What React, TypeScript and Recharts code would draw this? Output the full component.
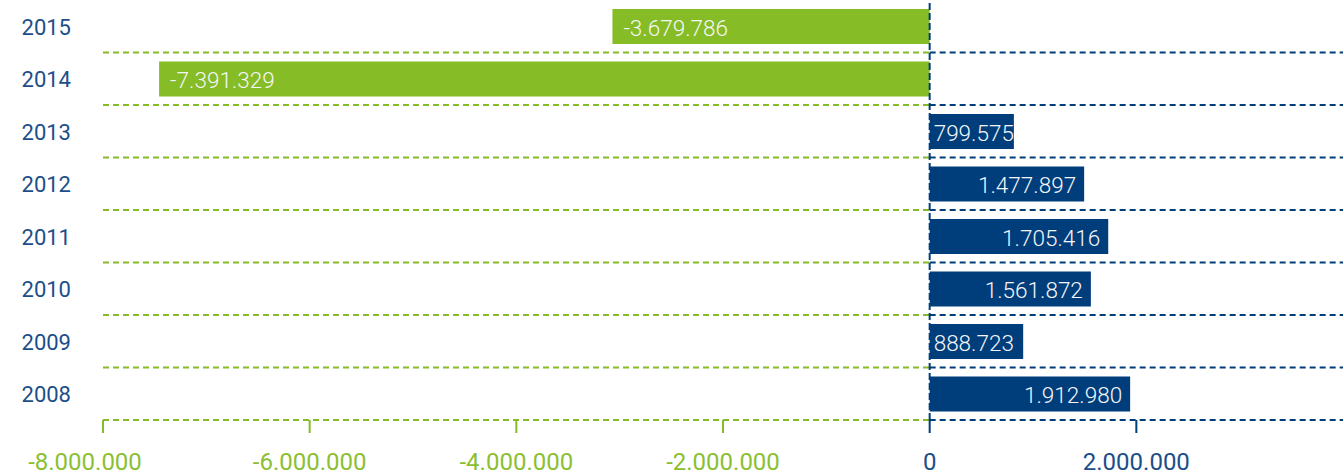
import React from 'react';
import { BarChart, Bar, XAxis, YAxis, CartesianGrid, ReferenceLine, Cell, LabelList } from 'recharts';

const years = ['2015', '2014', '2013', '2012', '2011', '2010', '2009', '2008'];
const barValues = [-3070000, -7457000, 815000, 1495000, 1728000, 1560000, 905000, 1940000];
const valueLabels = ['-3.679.786', '-7.391.329', '799.575', '1.477.897', '1.705.416', '1.561.872', '888.723', '1.912.980'];
const xTicks = [-8000000, -6000000, -4000000, -2000000, 0, 2000000];
const xTickLabels = ['-8.000.000', '-6.000.000', '-4.000.000', '-2.000.000', '0', '2.000.000'];
const xDomain = [-8000000, 4000000];

const GREEN = '#86bc25';
const BLUE = '#003d7b';
const GREEN_TEXT = '#8bbf33';
const BLUE_TEXT = '#1c4e89';
const FONT = 'Roboto, "DejaVu Sans", sans-serif';

const data = years.map((year, i) => ({ year, value: barValues[i], label: valueLabels[i] }));

const zeroFrac = (0 - xDomain[0]) / (xDomain[1] - xDomain[0]);

const GridLine = (props: any) => {
  const { x1, x2, y1 } = props;
  const zx = x1 + (x2 - x1) * zeroFrac;
  return (
    <g>
      <line x1={x1} x2={zx} y1={y1} y2={y1} stroke={GREEN} strokeWidth={2} strokeDasharray="6 4" />
      <line x1={zx} x2={x2} y1={y1} y2={y1} stroke={BLUE} strokeWidth={2} strokeDasharray="6 4" />
    </g>
  );
};

const XTick = (props: any) => {
  const { x, y, payload } = props;
  const v = payload.value;
  const i = xTicks.indexOf(v);
  const color = v < 0 ? GREEN : BLUE;
  const textColor = v < 0 ? GREEN_TEXT : BLUE_TEXT;
  const dx = i === 0 ? -18 : 0;
  return (
    <g>
      <line x1={x} x2={x} y1={y} y2={y + 13} stroke={color} strokeWidth={2} />
      <text x={x + dx} y={y + 50} textAnchor="middle" fill={textColor} fontSize={24} fontFamily={FONT}>
        {i >= 0 ? xTickLabels[i] : ''}
      </text>
    </g>
  );
};

const YTick = (props: any) => {
  const { x, y, payload } = props;
  return (
    <text x={x - 32} y={y} dy={1} textAnchor="end" dominantBaseline="central" fill={BLUE_TEXT} fontSize={22} fontFamily={FONT}>
      {payload.value}
    </text>
  );
};

const estWidth = (s: string) => {
  let w = 0;
  for (const c of s) {
    if (c === '.') w += 5.8;
    else if (c === '-') w += 7;
    else w += 12.4;
  }
  return w;
};

const BarLabel = (props: any) => {
  const { x, y, width, height, index } = props;
  const label = valueLabels[index];
  const left = Math.min(x, x + width);
  const right = Math.max(x, x + width);
  const barW = right - left;
  const cy = y + height / 2 + 1;
  let tx: number;
  let anchor: 'start' | 'end';
  if (barValues[index] < 0) {
    tx = left + 11;
    anchor = 'start';
  } else if (barW >= estWidth(label) + 14) {
    tx = right - 8;
    anchor = 'end';
  } else {
    tx = left + 4;
    anchor = 'start';
  }
  return (
    <text x={tx} y={cy} textAnchor={anchor} dominantBaseline="central" fill="#f4f6f8" fontSize={22.5} fontWeight={300} fontFamily={FONT}>
      {label}
    </text>
  );
};

export default function App() {
  return (
    <div style={{ position: 'absolute', left: 0, top: 0, width: 1343, height: 475, background: '#fff' }}>
      <BarChart
        width={1343}
        height={475}
        data={data}
        layout="vertical"
        margin={{ top: 0, right: 0, bottom: 0, left: 0 }}
        barCategoryGap={0}
      >
        <CartesianGrid
          vertical={false}
          horizontal={GridLine as any}
          horizontalCoordinatesGenerator={({ offset }: any) =>
            years.map((_, i) => offset.top + ((i + 1) * offset.height) / years.length)
          }
        />
        <XAxis
          type="number"
          domain={xDomain}
          ticks={xTicks}
          interval={0}
          axisLine={false}
          tickLine={false}
          tickSize={0}
          tickMargin={0}
          height={55}
          tick={<XTick />}
          allowDataOverflow
        />
        <YAxis
          type="category"
          dataKey="year"
          width={103}
          axisLine={false}
          tickLine={false}
          tickSize={0}
          tickMargin={0}
          interval={0}
          tick={<YTick />}
        />
        <Bar dataKey="value" barSize={35} isAnimationActive={false}>
          {data.map((d, i) => (
            <Cell key={i} fill={d.value < 0 ? GREEN : BLUE} />
          ))}
          <LabelList dataKey="label" content={<BarLabel />} />
        </Bar>
        <ReferenceLine x={0} stroke={BLUE} strokeWidth={2} strokeDasharray="7 3" />
      </BarChart>
    </div>
  );
}
